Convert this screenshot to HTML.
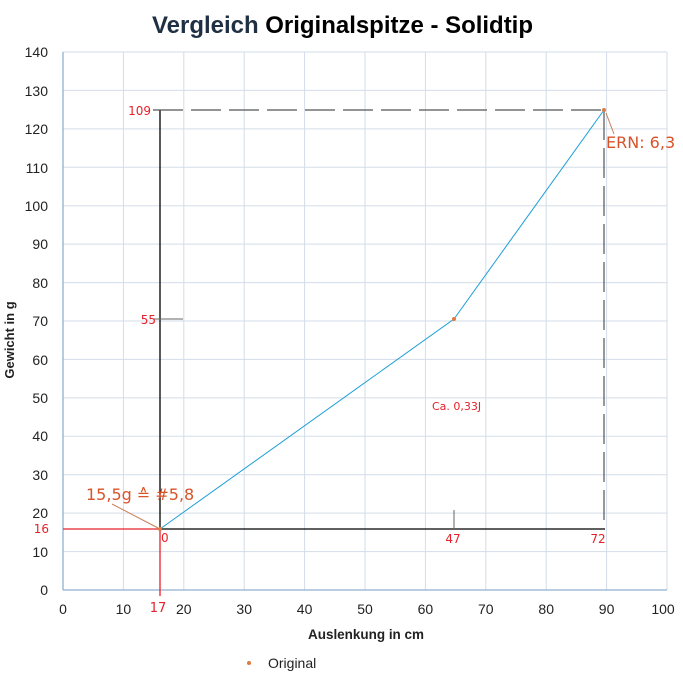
<!DOCTYPE html>
<html><head><meta charset="utf-8"><style>
html,body{margin:0;padding:0;background:#fff;}
svg{display:block;font-family:"Liberation Sans Narrow","Liberation Sans",sans-serif;}
</style></head><body>
<svg width="683" height="676" viewBox="0 0 683 676" xmlns="http://www.w3.org/2000/svg">
<rect width="683" height="676" fill="#fff"/>
<text x="152" y="33" font-size="24" font-weight="bold" fill="#000" textLength="381" lengthAdjust="spacingAndGlyphs"><tspan fill="#1f3044">Vergleich</tspan> Originalspitze - Solidtip</text>
<g stroke="#d3dde8" stroke-width="1">
<line x1="123.4" y1="52" x2="123.4" y2="590"/><line x1="183.8" y1="52" x2="183.8" y2="590"/><line x1="244.2" y1="52" x2="244.2" y2="590"/><line x1="304.6" y1="52" x2="304.6" y2="590"/><line x1="365" y1="52" x2="365" y2="590"/><line x1="425.4" y1="52" x2="425.4" y2="590"/><line x1="485.8" y1="52" x2="485.8" y2="590"/><line x1="546.2" y1="52" x2="546.2" y2="590"/><line x1="606.6" y1="52" x2="606.6" y2="590"/><line x1="667" y1="52" x2="667" y2="590"/>
<line x1="63" y1="551.6" x2="667" y2="551.6"/><line x1="63" y1="513.1" x2="667" y2="513.1"/><line x1="63" y1="474.7" x2="667" y2="474.7"/><line x1="63" y1="436.3" x2="667" y2="436.3"/><line x1="63" y1="397.9" x2="667" y2="397.9"/><line x1="63" y1="359.4" x2="667" y2="359.4"/><line x1="63" y1="321" x2="667" y2="321"/><line x1="63" y1="282.6" x2="667" y2="282.6"/><line x1="63" y1="244.1" x2="667" y2="244.1"/><line x1="63" y1="205.7" x2="667" y2="205.7"/><line x1="63" y1="167.3" x2="667" y2="167.3"/><line x1="63" y1="128.9" x2="667" y2="128.9"/><line x1="63" y1="90.4" x2="667" y2="90.4"/><line x1="63" y1="52" x2="667" y2="52"/>
</g>
<g stroke="#8fb0d0" stroke-width="1.3"><line x1="63" y1="52" x2="63" y2="590"/><line x1="63" y1="590" x2="667" y2="590"/></g>
<g font-size="14" fill="#222" text-anchor="end">
<text x="48" y="595">0</text><text x="48" y="557">10</text><text x="48" y="518">20</text><text x="48" y="480">30</text><text x="48" y="441">40</text><text x="48" y="403">50</text><text x="48" y="365">60</text><text x="48" y="326">70</text><text x="48" y="288">80</text><text x="48" y="249">90</text><text x="48" y="211">100</text><text x="48" y="173">110</text><text x="48" y="134">120</text><text x="48" y="96">130</text><text x="48" y="57">140</text>
</g>
<g font-size="14" fill="#222" text-anchor="middle">
<text x="63" y="614">0</text><text x="123.4" y="614">10</text><text x="183.8" y="614">20</text><text x="244.2" y="614">30</text><text x="304.6" y="614">40</text><text x="365" y="614">50</text><text x="425.4" y="614">60</text><text x="485.8" y="614">70</text><text x="546.2" y="614">80</text><text x="606.6" y="614">90</text><text x="663" y="614">100</text>
</g>
<text x="308" y="639" font-size="14" font-weight="bold" fill="#222" textLength="116" lengthAdjust="spacingAndGlyphs">Auslenkung in cm</text>
<text x="14" y="340" text-anchor="middle" font-size="13" font-weight="bold" fill="#222" transform="rotate(-90 14 340)">Gewicht in g</text>
<line x1="160" y1="110" x2="160" y2="529" stroke="#000" stroke-width="1.3"/>
<line x1="160" y1="529" x2="605" y2="529" stroke="#000" stroke-width="1.3"/>
<line x1="63" y1="529" x2="160" y2="529" stroke="#e8202a" stroke-width="1.3"/>
<line x1="160" y1="529" x2="160" y2="596" stroke="#e8202a" stroke-width="1.3"/>
<line x1="153" y1="110" x2="604" y2="110" stroke="#555" stroke-width="1.2" stroke-dasharray="30 8"/>
<line x1="604" y1="110" x2="604" y2="529" stroke="#555" stroke-width="1.2" stroke-dasharray="30 8"/>
<line x1="153" y1="319" x2="183" y2="319" stroke="#666" stroke-width="1"/>
<line x1="454" y1="510" x2="454" y2="529" stroke="#666" stroke-width="1"/>
<polyline points="160,529 454,319 604,110" fill="none" stroke="#1e9fd8" stroke-width="1"/>
<circle cx="160" cy="529" r="2" fill="#e07a40"/><circle cx="454" cy="319" r="2" fill="#e07a40"/><circle cx="604" cy="110" r="2" fill="#e07a40"/>
<line x1="112" y1="504" x2="158" y2="528" stroke="#c8805a" stroke-width="1"/>
<line x1="606" y1="113" x2="614" y2="134" stroke="#c8805a" stroke-width="1"/>
<g fill="#e8202a" font-family="'DejaVu Sans','Liberation Sans',sans-serif">
<text x="151" y="115" font-size="12" text-anchor="end">109</text>
<text x="156" y="324" font-size="12" text-anchor="end">55</text>
<text x="49" y="533" font-size="12" text-anchor="end">16</text>
<text x="161" y="542" font-size="12">0</text>
<text x="453" y="543" font-size="12" text-anchor="middle">47</text>
<text x="598" y="543" font-size="12" text-anchor="middle">72</text>
<text x="158" y="612" font-size="13" text-anchor="middle">17</text>
<text x="432" y="410" font-size="11">Ca. 0,33J</text>
</g>
<text x="86" y="500" font-size="16" fill="#d9532a" font-family="'DejaVu Sans','Liberation Sans',sans-serif">15,5g ≙ #5,8</text>
<text x="606" y="148" font-size="16" fill="#d9532a" font-family="'DejaVu Sans','Liberation Sans',sans-serif">ERN: 6,3</text>
<circle cx="249" cy="663" r="2" fill="#e07a40"/>
<text x="268" y="668" font-size="14" fill="#222">Original</text>
</svg>
</body></html>
